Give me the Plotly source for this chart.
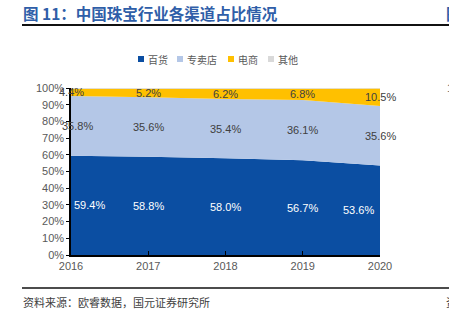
import plotly.graph_objects as go

# Share of China jewellery sales by channel, 2016-2020 (%)
years = [2016, 2017, 2018, 2019, 2020]
dept_store = [59.4, 58.8, 58.0, 56.7, 53.6]     # 百货
specialty = [35.8, 35.6, 35.4, 36.1, 35.6]      # 专卖店
ecommerce = [4.4, 5.2, 6.2, 6.8, 10.5]          # 电商
others = [0.4, 0.4, 0.4, 0.4, 0.3]              # 其他

series_names = ["百货", "专卖店", "电商", "其他"]
series_values = [dept_store, specialty, ecommerce, others]
series_colors = ["#0b4ea2", "#b4c7e7", "#ffc000", "#d9d9d9"]

W, H = 449, 325
L, R, T, B = 71, 69, 88, 70
PW, PH = W - L - R, H - T - B
CJK = "Noto Sans CJK SC"
LAT = "Liberation Sans, Arial, sans-serif"


def px(x):
    """pixel column -> paper x"""
    return (x - L) / PW


def py(y):
    """pixel row (from top) -> paper y"""
    return (H - B - y) / PH


fig = go.Figure()
for name, vals, col in zip(series_names, series_values, series_colors):
    fig.add_trace(go.Scatter(
        x=years, y=vals, name=name, stackgroup="one", mode="none",
        fillcolor=col, line=dict(width=0), showlegend=False, hoverinfo="skip"))

# value labels, centred vertically in each band
annotations = []
label_series = [(dept_store, "white"), (specialty, "#404040"), (ecommerce, "#404040")]
base = [0.0] * len(years)
for vals, col in label_series:
    for i, (yr, v) in enumerate(zip(years, vals)):
        mid = base[i] + v / 2
        xanchor, xshift = "center", 0
        if vals is dept_store and i == 0:
            xanchor, xshift = "left", 1
        if vals is dept_store and i == len(years) - 1:
            xanchor, xshift = "right", -4
        if vals is specialty and i == 0:
            xshift = 6
        annotations.append(dict(
            x=yr, y=mid, xref="x", yref="y", text=f"{v:.1f}%", showarrow=False,
            xanchor=xanchor, xshift=xshift, yanchor="middle",
            font=dict(family=LAT, size=11, color=col)))
    base = [b + v for b, v in zip(base, vals)]

# title and source
annotations.append(dict(
    x=px(21), y=py(13), xref="paper", yref="paper", xanchor="left", yanchor="middle",
    text="<b>图 11：中国珠宝行业各渠道占比情况</b>", showarrow=False,
    font=dict(family=CJK, size=15.5, color="#2f5ea8")))
annotations.append(dict(
    x=px(444), y=py(13), xref="paper", yref="paper", xanchor="left", yanchor="middle",
    text="<b>图</b>", showarrow=False, font=dict(family=CJK, size=15.5, color="#2f5ea8")))
annotations.append(dict(
    x=px(21), y=py(302), xref="paper", yref="paper", xanchor="left", yanchor="middle",
    text="资料来源：欧睿数据，国元证券研究所", showarrow=False,
    font=dict(family=CJK, size=11, color="#404040")))
annotations.append(dict(
    x=px(444), y=py(302), xref="paper", yref="paper", xanchor="left", yanchor="middle",
    text="资", showarrow=False, font=dict(family=CJK, size=11, color="#404040")))
annotations.append(dict(
    x=px(445), y=py(88), xref="paper", yref="paper", xanchor="left", yanchor="middle",
    text="1", showarrow=False, font=dict(family=LAT, size=11, color="#595959")))

# legend drawn as squares + labels
shapes = []
legend_marks = [138, 177, 228, 268]
for name, col, mx in zip(series_names, series_colors, legend_marks):
    shapes.append(dict(type="rect", xref="paper", yref="paper",
                       x0=px(mx), x1=px(mx + 6), y0=py(62), y1=py(56),
                       fillcolor=col, line=dict(width=0)))
    annotations.append(dict(
        x=px(mx + 8), y=py(59), xref="paper", yref="paper", xanchor="left",
        yanchor="middle", text=name, showarrow=False,
        font=dict(family=CJK, size=10, color="#595959")))

# rules under title and above source
shapes.append(dict(type="line", xref="paper", yref="paper", x0=px(22), x1=px(W),
                   y0=py(25), y1=py(25), line=dict(color="#111111", width=2)))
shapes.append(dict(type="line", xref="paper", yref="paper", x0=px(22), x1=px(W),
                   y0=py(288), y1=py(288), line=dict(color="#111111", width=1.5)))

fig.update_layout(
    width=W, height=H, margin=dict(l=L, r=R, t=T, b=B),
    paper_bgcolor="white", plot_bgcolor="white",
    showlegend=False, annotations=annotations, shapes=shapes,
    xaxis=dict(range=[2016, 2020], tickvals=years, ticktext=[str(y) for y in years],
               showgrid=False, zeroline=False, showline=True, linecolor="black",
               linewidth=1.5, ticks="inside", ticklen=4, tickcolor="black",
               tickfont=dict(family=LAT, size=11, color="#595959")),
    yaxis=dict(range=[0, 100], dtick=10, ticksuffix="%", showgrid=False,
               zeroline=False, showline=True, linecolor="black", linewidth=1.5,
               ticks="outside", ticklen=3, tickcolor="black",
               tickfont=dict(family=LAT, size=11, color="#595959")),
)

fig.write_html("out.html")
